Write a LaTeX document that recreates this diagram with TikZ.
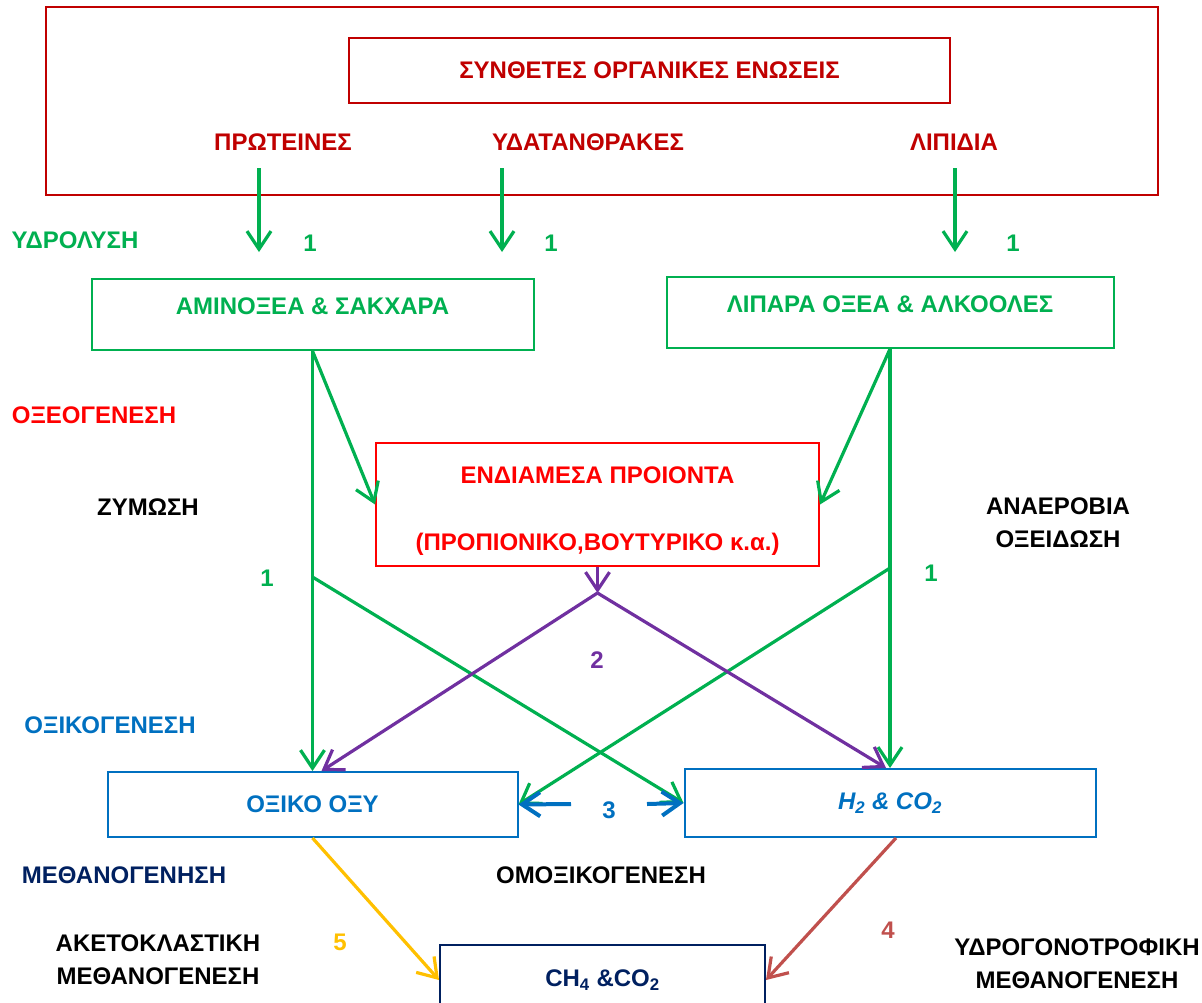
\documentclass[tikz,border=0pt]{standalone}
\usepackage{fontspec}
\setmainfont{Liberation Sans}
\usetikzlibrary{arrows.meta}
\definecolor{darkred}{HTML}{C00000}
\definecolor{hydgreen}{HTML}{00B050}
\definecolor{acidblue}{HTML}{0070C0}
\definecolor{navy}{HTML}{002060}
\definecolor{purp}{HTML}{7030A0}
\definecolor{amber}{HTML}{FFC000}
\definecolor{brick}{HTML}{C0504D}
\begin{document}
\begin{tikzpicture}[x=1pt, y=-1pt, line width=2pt,
  font=\fontsize{24}{33}\selectfont\bfseries,
  flow/.style={line width=3.2pt, -{Straight Barb[length=18pt,width=24pt]}},
  greenbox/.style={draw=hydgreen, text=hydgreen, text height=17pt, text depth=18pt}]
  \useasboundingbox (0,0) rectangle (1202,1002);

  % organic matter
  \node[draw=darkred, minimum width=1112pt, minimum height=188pt] (organic) at (602,101) {};
  \node[draw=darkred, text=darkred, minimum width=601pt, minimum height=65pt] (complex) at (649.5,70.5) {ΣΥΝΘΕΤΕΣ ΟΡΓΑΝΙΚΕΣ ΕΝΩΣΕΙΣ};
  \node[text=darkred] (proteins) at (283,142) {ΠΡΩΤΕΙΝΕΣ};
  \node[text=darkred] (carbs) at (588,142) {ΥΔΑΤΑΝΘΡΑΚΕΣ};
  \node[text=darkred] (lipids) at (954,142) {ΛΙΠΙΔΙΑ};

  % hydrolysis
  \node[text=hydgreen] (hydrolysis) at (75,240) {ΥΔΡΟΛΥΣΗ};
  \coordinate (protA) at (259,168);
  \coordinate (protB) at (259,252);
  \coordinate (carbA) at (502,168);
  \coordinate (carbB) at (502,252);
  \coordinate (lipA) at (955,168);
  \coordinate (lipB) at (955,252);
  \draw[flow, hydgreen] (protA) -- (protB);
  \draw[flow, hydgreen] (carbA) -- (carbB);
  \draw[flow, hydgreen] (lipA) -- (lipB);
  \node[text=hydgreen] at (310,243) {1};
  \node[text=hydgreen] at (551,243) {1};
  \node[text=hydgreen] at (1013,243) {1};

  \node[greenbox, minimum width=442pt, minimum height=71pt] (amino) at (312.5,314.5) {ΑΜΙΝΟΞΕΑ \& ΣΑΚΧΑΡΑ};
  \node[greenbox, minimum width=447pt, minimum height=71pt] (lipara) at (890,312.5) {ΛΙΠΑΡΑ ΟΞΕΑ \& ΑΛΚΟΟΛΕΣ};

  % acidogenesis
  \node[text=red] (acidogen) at (94,415) {ΟΞΕΟΓΕΝΕΣΗ};
  \node (ferment) at (148,507) {ΖΥΜΩΣΗ};
  \node[align=center] (anaerob) at (1058,523) {ΑΝΑΕΡΟΒΙΑ\\ΟΞΕΙΔΩΣΗ};
  \node[draw=red, text=red, align=center, minimum width=443pt, minimum height=123pt,
    text height=96pt, text depth=5pt] (endiam) at (597.5,504.5)
    {ΕΝΔΙΑΜΕΣΑ ΠΡΟΙΟΝΤΑ\\[34pt](ΠΡΟΠΙΟΝΙΚΟ,ΒΟΥΤΥΡΙΚΟ κ.α.)};
  \node[text=hydgreen] at (267,578) {1};
  \node[text=hydgreen] at (931,573) {1};
  \node[text=purp] at (597,660) {2};

  % acetogenesis
  \node[text=acidblue] (acetogen) at (110,725) {ΟΞΙΚΟΓΕΝΕΣΗ};
  \node[draw=acidblue, text=acidblue, minimum width=410pt, minimum height=65pt] (oxiko) at (312.5,804.5) {ΟΞΙΚΟ ΟΞΥ};
  \node[draw=acidblue, text=acidblue, minimum width=411pt, minimum height=68pt] (h2) at (890,803)
    {\itshape H\textsubscript{2} \& CO\textsubscript{2}};
  \node[text=acidblue] at (609,810) {3};

  \coordinate (fermL) at (312.5,577);
  \coordinate (anaR) at (890,568);
  \coordinate (split) at (597.5,593);
  \coordinate (homoL) at (571,804);
  \coordinate (homoR) at (647,804);

  \draw[flow, hydgreen] (amino.south) -- (endiam.west);
  \draw[flow, hydgreen] (lipara.south) -- (endiam.east);
  \draw[flow, hydgreen] (amino.south) -- (oxiko.north);
  \draw[flow, hydgreen] (lipara.south) -- (h2.north);
  \draw[flow, hydgreen] (fermL) -- (h2.west);
  \draw[flow, hydgreen] (anaR) -- (oxiko.east);
  \draw[flow, purp] (endiam.south) -- (split);
  \draw[flow, purp] (split) -- ([xshift=9pt]oxiko.north);
  \draw[flow, purp] (split) -- ([xshift=-4pt]h2.north);
  \draw[flow, acidblue, line width=4pt] (homoL) -- (oxiko.east);
  \draw[flow, acidblue, line width=4pt] (homoR) -- (h2.west);

  % methanogenesis
  \node[text=navy] (methano) at (124,875) {ΜΕΘΑΝΟΓΕΝΗΣΗ};
  \node (homoacet) at (601,875) {ΟΜΟΞΙΚΟΓΕΝΕΣΗ};
  \node[align=center] (acetoclast) at (158,960) {ΑΚΕΤΟΚΛΑΣΤΙΚΗ\\ΜΕΘΑΝΟΓΕΝΕΣΗ};
  \node[align=center] (hydrogeno) at (1077,964) {ΥΔΡΟΓΟΝΟΤΡΟΦΙΚΗ\\ΜΕΘΑΝΟΓΕΝΕΣΗ};
  \node[text=amber] at (340,942) {5};
  \node[text=brick] at (888,930) {4};
  \node[draw=navy, text=navy, minimum width=325pt, minimum height=70pt] (ch4) at (602.5,980)
    {CH\textsubscript{4} \&CO\textsubscript{2}};

  \draw[flow, amber] (oxiko.south) -- (ch4.west);
  \draw[flow, brick] ([xshift=6pt]h2.south) -- (ch4.east);
\end{tikzpicture}
\end{document}
